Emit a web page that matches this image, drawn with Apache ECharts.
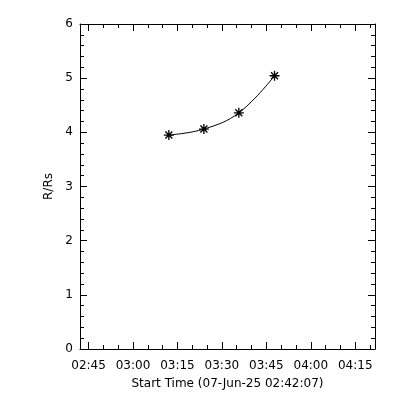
<!DOCTYPE html>
<html><head><meta charset="utf-8">
<script src="https://cdn.jsdelivr.net/npm/echarts@6/dist/echarts.min.js"></script>
<style>html,body{margin:0;padding:0;background:#fff}#c{width:400px;height:400px}</style>
</head><body><div id="c"></div>
<script>
var startTime = '02:42:07';
var endTime = '04:21:40';
var times = ['03:12:06', '03:23:55', '03:35:43', '03:47:46'];
var heights = [3.95, 4.06, 4.36, 5.045];
var xTickLabels = ['02:45', '03:00', '03:15', '03:30', '03:45', '04:00', '04:15'];
var minorStepMin = 5;
var xTitle = 'Start Time (07-Jun-25 02:42:07)';
var yTitle = 'R/Rs';

function toMin(s){var p=s.split(':').map(Number);return p[0]*60+p[1]+(p[2]||0)/60;}
function fmt(v){var t=Math.round(v);var h=Math.floor(t/60),m=t%60;return (h<10?'0':'')+h+':'+(m<10?'0':'')+m;}

var xMin = toMin(startTime), xMax = toMin(endTime);
var majors = xTickLabels.map(toMin);
var minors = [];
for (var i=0;i<majors.length;i++){
  for (var k=-2;k<=3;k++){
    var v = majors[i]+k*minorStepMin;
    if (k!==0 && v>xMin && v<xMax && minors.indexOf(v)<0 && majors.indexOf(v)<0) minors.push(v);
  }
}
var data = times.map(function(t,i){return [toMin(t), heights[i]];});

var font = 'DejaVu Sans';
function xa(pos, vals, len, labels, line){
  return {
    type:'value', position:pos, min:xMin, max:xMax, gridIndex:0,
    axisLine:{show:line, lineStyle:{color:'#000', width:1}},
    axisTick:{show:true, inside:true, length:len, customValues:vals, lineStyle:{color:'#000'}},
    axisLabel:{show:labels, customValues:vals, formatter:fmt, color:'#000', fontFamily:font, fontSize:12, margin:11},
    splitLine:{show:false},
    name: labels ? xTitle : '', nameLocation:'middle', nameGap:29,
    nameTextStyle:{color:'#000', fontFamily:font, fontSize:12}
  };
}
function ya(pos, labels){
  return {
    type:'value', position:pos, min:0, max:6, interval:1,
    axisLine:{show:true, lineStyle:{color:'#000', width:1}},
    axisTick:{show:true, inside:true, length:7, lineStyle:{color:'#000'}},
    minorTick:{show:true, splitNumber:5, length:4, lineStyle:{color:'#000'}},
    axisLabel:{show:labels, color:'#000', fontFamily:font, fontSize:12, margin:7},
    splitLine:{show:false},
    name: labels ? yTitle : '', nameLocation:'middle', nameGap:20, nameRotate:90,
    nameTextStyle:{color:'#000', fontFamily:font, fontSize:12}
  };
}
var chart = echarts.init(document.getElementById('c'), null, {renderer:'canvas'});
chart.setOption({
  animation:false,
  backgroundColor:'#fff',
  grid:{left:80, right:25, top:24, bottom:51, containLabel:false},
  xAxis:[
    xa('bottom', majors, 7, true, true),
    xa('bottom', minors, 4, false, false),
    xa('top', majors, 7, false, true),
    xa('top', minors, 4, false, false)
  ],
  yAxis:[ya('left', true), ya('right', false)],
  series:[{
    type:'line', xAxisIndex:0, yAxisIndex:0, data:data, smooth:0.4,
    symbol:'path://M-1,0L1,0M0,-1L0,1M-0.7,-0.7L0.7,0.7M-0.7,0.7L0.7,-0.7',
    symbolSize:10,
    itemStyle:{color:'none', borderColor:'#000', borderWidth:1.3},
    lineStyle:{color:'#000', width:1}
  }]
});
</script></body></html>
